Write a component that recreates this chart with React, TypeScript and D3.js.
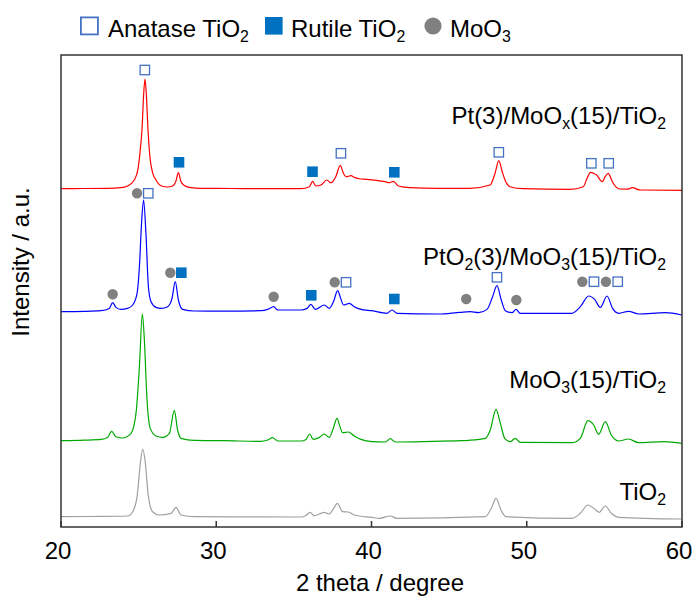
import React from 'react';
import * as d3 from 'd3';

const width = 697;
const height = 605;
const margin = { top: 55, right: 15, bottom: 78, left: 61 };

const xTicks = [20, 30, 40, 50, 60];

// [2 theta, intensity above the pattern's own baseline]
const tio2: [number, number][] = [
  [20, 0], [22.0, 2], [24.29, 7], [24.62, 50], [24.9, 200], [25.11, 533], [25.26, 677], [25.41, 567],
  [25.63, 200], [25.9, 50], [26.33, 17], [27.09, 33], [27.41, 93], [27.73, 17], [28.59, 0], [35.46, -3],
  [35.78, 13], [36.04, 43], [36.32, 10], [36.96, 43], [37.28, 27], [37.55, 80], [37.8, 133], [38.14, 50],
  [38.51, 47], [38.89, 17], [40.03, -7], [40.5, -16], [41.21, 7], [41.64, -16], [47.33, 0], [47.72, 84],
  [48.02, 184], [48.34, 67], [48.66, 0], [52.91, -16], [53.45, 34], [53.94, 117], [54.31, 84], [54.67, 44],
  [55.06, 107], [55.45, 34], [55.92, -6], [60, -23],
];

const moo3Tio2: [number, number][] = [
  [20, 0], [21.5, 5], [22.58, 13], [23.0, 33], [23.26, 93], [23.54, 40], [23.97, 27], [24.51, 73],
  [24.83, 273], [25.05, 740], [25.24, 1267], [25.37, 1007], [25.54, 407], [25.75, 123], [26.12, 47],
  [26.55, 33], [26.98, 73], [27.3, 303], [27.51, 107], [27.73, 23], [28.59, 3], [30.5, 0], [32.88, -7],
  [33.31, 7], [33.63, 30], [33.96, -3], [35.46, -3], [35.78, 13], [36.02, 67], [36.25, 13], [36.64, 33],
  [36.96, 67], [37.28, 33], [37.55, 130], [37.78, 223], [37.95, 150], [38.14, 80], [38.51, 87], [38.89, 47],
  [39.32, 13], [40.03, -10], [40.89, -13], [41.21, 20], [41.53, -13], [44.0, -6], [45.72, 0], [46.26, 4],
  [47.33, 24], [47.65, 107], [48.02, 314], [48.3, 174], [48.58, 24], [48.94, -10], [49.26, 24], [49.58, -16],
  [52.91, -20], [53.45, 24], [53.94, 200], [54.31, 157], [54.63, 64], [55.06, 190], [55.45, 57], [55.92, -3],
  [56.56, 17], [57.21, -20], [58.82, -10], [60, -26],
];

const pto2Moo3Tio2: [number, number][] = [
  [20, 0], [21.5, 3], [22.58, 10], [23.11, 33], [23.33, 90], [23.54, 43], [23.86, 23], [24.29, 33],
  [24.62, 67], [24.9, 183], [25.05, 450], [25.2, 917], [25.32, 1117], [25.47, 783], [25.63, 250], [25.8, 100],
  [26.12, 43], [26.44, 33], [26.87, 50], [27.15, 133], [27.36, 300], [27.56, 117], [27.84, 23], [28.59, 7],
  [30.5, 5], [32.88, 10], [33.31, 23], [33.7, 50], [33.96, 17], [35.46, 17], [35.85, 33], [36.1, 73],
  [36.38, 23], [36.96, 67], [37.28, 33], [37.55, 100], [37.82, 210], [38.0, 140], [38.2, 67], [38.57, 83],
  [38.89, 50], [39.32, 23], [40.03, 10], [41.0, -16], [41.32, 17], [41.64, -16], [44.32, -23], [45.72, -6],
  [46.36, 0], [46.9, -10], [47.44, 23], [47.8, 150], [48.08, 260], [48.36, 117], [48.62, 10], [49.05, -10],
  [49.31, 23], [49.58, -16], [52.91, -16], [53.45, 50], [53.99, 157], [54.37, 123], [54.74, 43], [55.17, 157],
  [55.53, 33], [55.92, -16], [56.56, 4], [57.21, -23], [58.92, -10], [60, -33],
];

const ptMooxTio2: [number, number][] = [
  [20, 0], [21.5, 2], [23.0, 4], [23.86, 10], [24.29, 27], [24.72, 87], [24.95, 190], [25.1, 380],
  [25.22, 600], [25.33, 960], [25.41, 1097], [25.49, 960], [25.6, 600], [25.72, 330], [25.9, 160], [26.12, 87],
  [26.44, 30], [26.87, 17], [27.19, 27], [27.4, 75], [27.56, 160], [27.72, 75], [27.94, 33], [28.37, 10],
  [29.0, 3], [31.0, 2], [33.0, 0], [35.46, 0], [36.0, 20], [36.21, 73], [36.42, 27], [36.75, 37], [37.11, 87],
  [37.39, 60], [37.7, 120], [37.99, 233], [38.2, 150], [38.36, 120], [38.68, 130], [38.9, 113], [39.32, 97],
  [39.69, 94], [40.33, 84], [40.87, 70], [41.15, 60], [41.41, 74], [41.73, 27], [42.48, 10], [44.2, 4],
  [46.35, 4], [47.64, 37], [47.95, 150], [48.2, 280], [48.42, 170], [48.6, 87], [48.92, 20], [49.78, 0],
  [52.78, -6], [53.64, 20], [53.9, 110], [54.11, 164], [54.3, 155], [54.5, 137], [54.86, 70], [55.05, 120],
  [55.25, 154], [55.43, 100], [55.57, 54], [56.0, -3], [56.5, -4], [56.8, 10], [57.3, -13], [60, -16],
];

// vertical stacking offsets (a.u.)
const offsets = [103, 863, 2153, 3383];
const sampleNames = ['TiO_2', 'MoO_3(15)/TiO_2', 'PtO_2(3)/MoO_3(15)/TiO_2', 'Pt(3)/MoO_x(15)/TiO_2'];
const patterns = [tio2, moo3Tio2, pto2Moo3Tio2, ptMooxTio2];

// phase markers [2 theta, a.u.]
const anataseMarks: [number, number][] = [
  [25.4, 4570], [38.03, 3737], [48.2, 3747], [54.16, 3637], [55.28, 3637],
  [25.62, 3337], [38.36, 2447], [48.08, 2497], [54.33, 2453], [55.86, 2453],
];
const rutileMarks: [number, number][] = [
  [27.6, 3647], [36.2, 3553], [41.47, 3547], [27.75, 2543], [36.12, 2317], [41.47, 2280],
];
const moo3Marks: [number, number][] = [
  [24.9, 3337], [23.33, 2327], [27.04, 2543], [33.7, 2303], [37.63, 2447],
  [46.1, 2280], [49.33, 2270], [53.58, 2453], [55.1, 2453],
];

const colors = ['#a0a0a0', '#00aa00', '#0000ff', '#ff0000'];
const labelY = [270, 1390, 2620, 4030];
const font = '"Liberation Sans", Arial, sans-serif';

const Rich = ({ text, x, y, anchor = 'start', size = 24 }: any) => {
  const parts = text.split(/_(.)/);
  return (
    <text x={x} y={y} textAnchor={anchor} fontSize={size} fontFamily={font} fill="#000">
      {parts.map((p: string, i: number) =>
        i % 2 ? (
          <tspan key={i} dy={5} fontSize={size * 0.66}>{p}</tspan>
        ) : (
          <tspan key={i} dy={i > 0 ? -5 : 0}>{p}</tspan>
        )
      )}
    </text>
  );
};

const App = () => {
  const innerWidth = width - margin.left - margin.right;
  const innerHeight = height - margin.top - margin.bottom;

  const xScale = d3.scaleLinear().domain([20, 60]).range([margin.left, margin.left + innerWidth]);
  const yScale = d3.scaleLinear().domain([0, 4720]).range([margin.top + innerHeight, margin.top]);

  const bottom = margin.top + innerHeight;

  return (
    <svg width={width} height={height} style={{ position: 'absolute', left: 0, top: 0 }}>
      <defs>
        <clipPath id="plot">
          <rect x={margin.left} y={margin.top} width={innerWidth} height={innerHeight} />
        </clipPath>
      </defs>

      <g clipPath="url(#plot)">
        {patterns.map((data, i) => {
          const line = d3
            .line<[number, number]>()
            .x(d => xScale(d[0]))
            .y(d => yScale(d[1] + offsets[i]))
            .curve(d3.curveMonotoneX);
          return <path key={i} d={line(data) || ''} fill="none" stroke={colors[i]} strokeWidth={1.2} />;
        })}
      </g>

      {moo3Marks.map((d, i) => (
        <circle key={'m' + i} cx={xScale(d[0])} cy={yScale(d[1])} r={5.2} fill="#808080" />
      ))}
      {rutileMarks.map((d, i) => (
        <rect key={'r' + i} x={xScale(d[0]) - 5.3} y={yScale(d[1]) - 5.3} width={10.6} height={10.6} fill="#0070c0" />
      ))}
      {anataseMarks.map((d, i) => (
        <rect key={'a' + i} x={xScale(d[0]) - 4.7} y={yScale(d[1]) - 4.7} width={9.4} height={9.4}
          fill="#fff" stroke="#4472c4" strokeWidth={1.3} />
      ))}

      {sampleNames.map((name, i) => (
        <Rich key={name} text={name} x={xScale(58.97)} y={yScale(labelY[i])} anchor="end" />
      ))}

      <rect x={margin.left} y={margin.top} width={innerWidth} height={innerHeight}
        fill="none" stroke="#333" strokeWidth={1.5} />

      {xTicks.map(t => (
        <g key={t}>
          <line x1={xScale(t)} x2={xScale(t)} y1={bottom} y2={bottom - 6} stroke="#333" strokeWidth={1.5} />
          <text x={xScale(t) - 3} y={bottom + 32} textAnchor="middle" fontSize={24} fontFamily={font}>{t}</text>
        </g>
      ))}

      <text x={380} y={591} textAnchor="middle" fontSize={24} fontFamily={font}>2 theta / degree</text>
      <text transform="translate(29,262) rotate(-90)" textAnchor="middle" fontSize={24} fontFamily={font}>
        Intensity / a.u.
      </text>

      {/* legend */}
      <rect x={80.9} y={17.4} width={17} height={17} fill="#fff" stroke="#4472c4" strokeWidth={1.8} />
      <Rich text="Anatase TiO_2" x={108} y={37} />
      <rect x={265} y={17} width={17.6} height={17.6} fill="#0070c0" />
      <Rich text="Rutile TiO_2" x={291} y={37} />
      <circle cx={433} cy={26} r={8.6} fill="#808080" />
      <Rich text="MoO_3" x={450} y={37} />
    </svg>
  );
};

export default App;
